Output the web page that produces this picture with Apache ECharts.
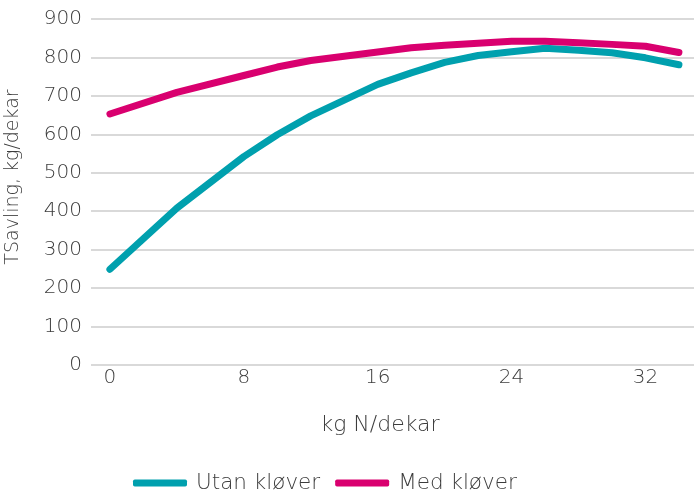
<!DOCTYPE html>
<html><head><meta charset="utf-8">
<script src="https://cdn.jsdelivr.net/npm/echarts@6/dist/echarts.min.js"></script>
<style>html,body{margin:0;padding:0;background:#fff}#c{width:694px;height:495px}</style>
</head><body><div id="c"></div>
<script>
const xValues = [0, 4, 8, 10, 12, 16, 18, 20, 22, 24, 26, 28, 30, 32, 34];
const utanKlover = [249, 408, 542, 599, 648, 730, 760, 787, 805, 815, 824, 819, 812, 799, 781];
const medKlover = [653, 709, 753, 775, 792, 814, 825, 832, 837, 842, 842, 838, 834, 829, 813];
const xTickLabels = [0, 8, 16, 24, 32];
const yTicks = {min: 0, max: 900, interval: 100};
const seriesNames = ['Utan kløver', 'Med kløver'];

const txt = '#3c3c3c';
const font = 'DejaVu Sans';
const chart = echarts.init(document.getElementById('c'), null, {renderer: 'canvas'});
chart.setOption({
  animation: false,
  grid: {left: 91, right: 0, top: 19, bottom: 130, containLabel: false, outerBoundsMode: 'none'},
  legend: {
    left: 128, top: 467, itemWidth: 54, itemHeight: 7, itemGap: 15,
    icon: 'roundRect',
    textStyle: {fontFamily: font, fontSize: 21.5, color: txt, fontWeight: 300, padding: [0, 0, 0, 4]},
    data: seriesNames
  },
  xAxis: {
    type: 'value', min: -1.13, max: 34.9,
    name: 'kg N/dekar', nameLocation: 'middle', nameGap: 49,
    nameTextStyle: {fontFamily: font, fontSize: 22, color: txt, fontWeight: 300, padding: [0, 25, 0, 0]},
    axisLine: {show: false}, axisTick: {show: false}, splitLine: {show: false},
    axisLabel: {customValues: xTickLabels, fontFamily: font, fontSize: 20, color: txt, margin: 3, fontWeight: 300}
  },
  yAxis: {
    type: 'value', min: yTicks.min, max: yTicks.max, interval: yTicks.interval,
    name: 'TSavling, kg/dekar', nameLocation: 'middle', nameGap: 68,
    nameTextStyle: {fontFamily: font, fontSize: 19, color: txt, fontWeight: 300, padding: [0, 0, 0, 30]},
    axisLine: {show: false}, axisTick: {show: false},
    splitLine: {lineStyle: {color: '#d9d9d9', width: 2}},
    axisLabel: {fontFamily: font, fontSize: 20, color: txt, margin: 9, fontWeight: 300}
  },
  series: [
    {name: seriesNames[0], type: 'line', data: xValues.map((x, i) => [x, utanKlover[i]]),
     showSymbol: false, symbol: 'none', color: '#00A0AE',
     lineStyle: {width: 7, color: '#00A0AE', cap: 'round', join: 'round'}},
    {name: seriesNames[1], type: 'line', data: xValues.map((x, i) => [x, medKlover[i]]),
     showSymbol: false, symbol: 'none', color: '#D9006F',
     lineStyle: {width: 7, color: '#D9006F', cap: 'round', join: 'round'}}
  ]
});
</script></body></html>
